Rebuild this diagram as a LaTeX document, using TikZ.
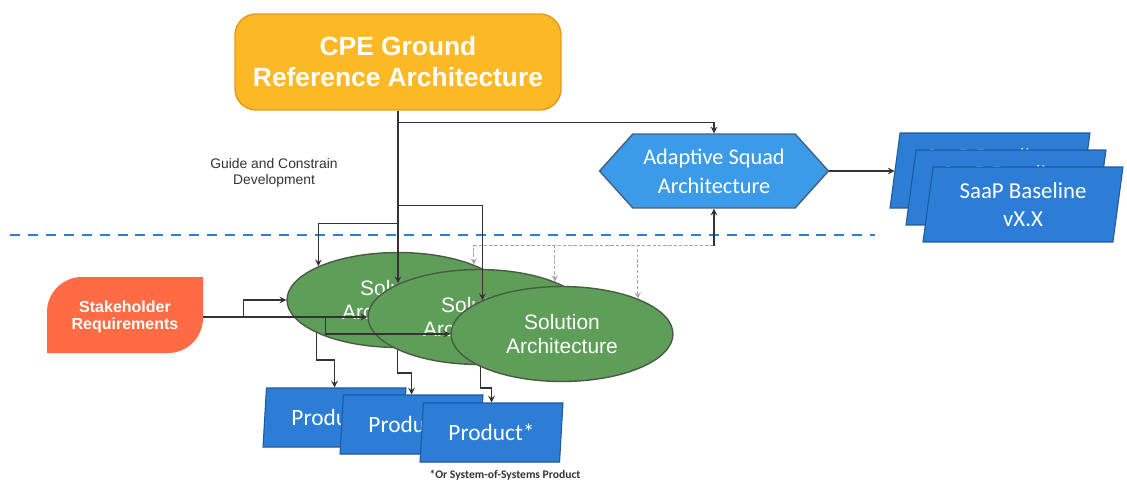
\documentclass[tikz,border=0pt]{standalone}
\usepackage{fontspec}
\setmainfont{Liberation Sans}
\newfontfamily\calibri{Carlito}
\usetikzlibrary{shapes.geometric, shapes.symbols}

\definecolor{cpeyellow}{HTML}{FDB825}
\definecolor{cpeedge}{HTML}{E8961C}
\definecolor{stakered}{HTML}{FF6B45}
\definecolor{solgreen}{HTML}{5E9E58}
\definecolor{soledge}{HTML}{4B5A47}
\definecolor{hexblue}{HTML}{3C9BE8}
\definecolor{hexedge}{HTML}{43607E}
\definecolor{prodblue}{HTML}{2B7DD6}
\definecolor{prodedge}{HTML}{22589C}
\definecolor{linkgray}{HTML}{333333}
\definecolor{dashblue}{HTML}{2F7DD5}

\begin{document}
\begin{tikzpicture}[x=0.02cm, y=-0.02cm, >=stealth,
	link/.style={draw=linkgray, line width=0.7pt},
	feedback/.style={draw=gray!70, line width=0.6pt, dash pattern=on 2pt off 1pt},
	cpebox/.style={rectangle, rounded corners=0.42cm, fill=cpeyellow, draw=cpeedge, line width=0.8pt,
		minimum width=6.52cm, minimum height=1.92cm, text=white, align=center,
		font=\fontsize{15}{17.6}\selectfont\bfseries},
	stakebox/.style={minimum width=3.12cm, minimum height=1.52cm, text=white, align=center,
		font=\fontsize{9.1}{9.6}\selectfont\bfseries},
	solbox/.style={ellipse, fill=solgreen, draw=soledge, line width=0.8pt, inner sep=0pt,
		minimum width=4.44cm, minimum height=1.9cm, text=white, align=center,
		font=\fontsize{11.9}{14.2}\selectfont},
	hexbox/.style={signal, signal to=east and west, signal pointer angle=96, fill=hexblue,
		draw=hexedge, line width=0.8pt, inner sep=0pt, minimum width=4.58cm, minimum height=1.48cm,
		text=white, align=center, font=\calibri\fontsize{12.7}{16.4}\selectfont},
	prodbox/.style={trapezium, trapezium left angle=78.5, trapezium right angle=101.5,
		trapezium stretches body, fill=prodblue, draw=prodedge, line width=0.6pt, inner sep=0pt,
		minimum width=2.86cm, minimum height=1.18cm, text=white,
		font=\calibri\fontsize{13.3}{16}\selectfont},
	saapbox/.style={trapezium, trapezium left angle=77.2, trapezium right angle=102.8,
		trapezium stretches body, fill=prodblue, draw=prodedge, line width=0.6pt, inner sep=0pt,
		minimum width=4.0cm, minimum height=1.5cm, text=white, align=center,
		font=\calibri\fontsize{13}{16}\selectfont},
	note/.style={text=linkgray, align=center}]
	\useasboundingbox (0,0) rectangle (1127,484);

	%boundary line
	\draw[dashblue, line width=1.6pt, dash pattern=on 5.7pt off 4.5pt] (10,235)--(875,235);

	%reference and squad level
	\node[cpebox] (cpe) at (398,62) {CPE Ground\\Reference Architecture};
	\node[note, font=\fontsize{7.9}{9}\selectfont] (guide) at (274,173) {Guide and Constrain\\Development};
	\node[hexbox] (squad) at (714,171) {Adaptive Squad\\Architecture};
	\node[saapbox] (saap1) at (990,170.5) {SaaP Baseline\\vX.X};
	\node[saapbox] (saap2) at (1006,187.5) {SaaP Baseline\\vX.X};
	\node[saapbox] (saap3) at (1023,204.5) {SaaP Baseline\\vX.X};

	%requirements
	\fill[stakered] (47,353) -- (47,312) .. controls (47,292.7) and (62.7,277) .. (82,277) -- (203,277)
		-- (203,318) .. controls (203,337.3) and (187.3,353) .. (168,353) -- cycle;
	\node[stakebox] (stake) at (125,317) {Stakeholder\\Requirements};

	%solutions
	\node[solbox] (sol1) at (398,300) {Solution\\Architecture};
	\node[solbox] (sol2) at (479,317) {Solution\\Architecture};
	\node[solbox] (sol3) at (562,334) {Solution\\Architecture};

	%products
	\node[prodbox] (prod1) at (334.5,417.5) {Product*};
	\node[prodbox] (prod2) at (411.5,424.5) {Product*};
	\node[prodbox] (prod3) at (491.5,432.5) {Product*};
	\node[note, font=\calibri\bfseries\fontsize{6.6}{8}\selectfont] (foot) at (505,475) {*Or System-of-Systems Product};

	%guide and constrain
	\draw[link, ->] (cpe.south) -- ++(0,12) -| (squad.north);
	\draw[link, ->] (cpe.south) -- ++(0,95) -| (sol3.157);
	\draw[link, ->] (cpe.south) -- ++(0,113) -| (sol1.157);
	\draw[link, ->] (cpe.south) -- (cpe.south |- sol2.157);

	%feedback to squad architecture
	\coordinate (fbjoin) at ([yshift=-0.74cm]squad.south);
	\foreach \i in {1,2,3}
		\draw[feedback, ->] (fbjoin) -| (sol\i.25);
	\draw[link, ->] (fbjoin) -- (squad.south);
	\draw[link, ->] (squad.east) -- (squad.east -| saap1.west);

	%requirements in
	\draw[link, ->] (stake.east) -- ++(40,0) |- (sol1.west);
	\draw[link, ->] (stake.east) -- (sol2.west);
	\draw[link, ->] (stake.east) -- ++(122,0) |- (sol3.west);

	%products out
	\draw[link, ->] (sol1.202) -- ++(0,27) -| (prod1.north);
	\draw[link, ->] (sol2.202) -- ++(0,23) -| (prod2.north);
	\draw[link, ->] (sol3.202) -- ++(0,21) -| (prod3.north);
\end{tikzpicture}
\end{document}
